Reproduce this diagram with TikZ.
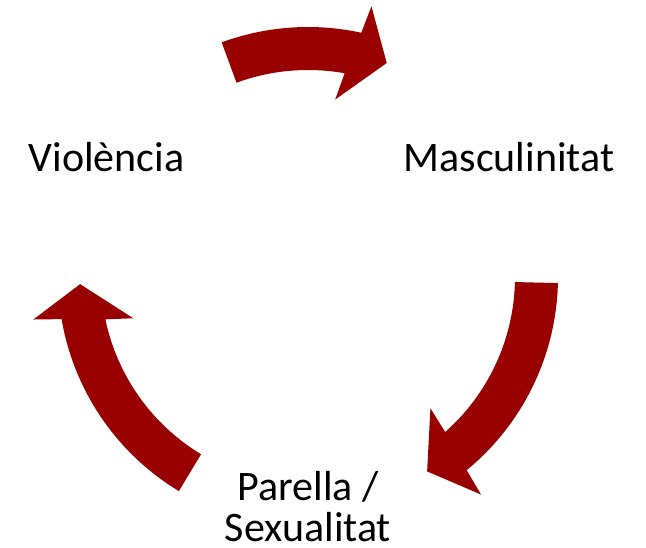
\documentclass[tikz,border=0pt]{standalone}
\usepackage{fontspec}
\setmainfont{Carlito}
\definecolor{arrowred}{RGB}{153,0,0}
\newcommand{\ringarrow}[2]{% #1 tail angle, #2 tip angle
  \pgfmathsetmacro{\raShaftO}{#2+7.9}
  \pgfmathsetmacro{\raHeadO}{#2+7.0}
  \pgfmathsetmacro{\raHeadI}{#2+11.5}
  \pgfmathsetmacro{\raShaftI}{#2+10}
  \fill[arrowbody] (#1:250) arc[start angle=#1, end angle=\raShaftO, radius=250]
    -- (\raHeadO:278) -- (#2:228) -- (\raHeadI:179.5) -- (\raShaftI:207)
    arc[start angle=\raShaftI, end angle=#1, radius=207] -- cycle;}
\tikzset{
  arrowbody/.style={fill=arrowred},
  label/.style={font=\fontsize{42}{41}\selectfont, inner sep=0pt, align=center, text=black},
}
\begin{document}
\begin{tikzpicture}[x=1pt, y=1pt]
  \fill[white] (0,0) rectangle (646,548);
  \useasboundingbox (0,0) rectangle (646,548);
  \begin{scope}[shift={(308,271)}]
    \ringarrow{110.2}{69.8}
    \ringarrow{358.6}{301.5}
    \ringarrow{238.9}{181.8}
  \end{scope}
  \node[label, anchor=base] (viol) at (106.5,376) {Violència};
  \node[label, anchor=base] (masc) at (509,376) {Masculinitat};
  \node[label, anchor=base] (parella) at (308,6) {Parella /\\Sexualitat};
\end{tikzpicture}
\end{document}
